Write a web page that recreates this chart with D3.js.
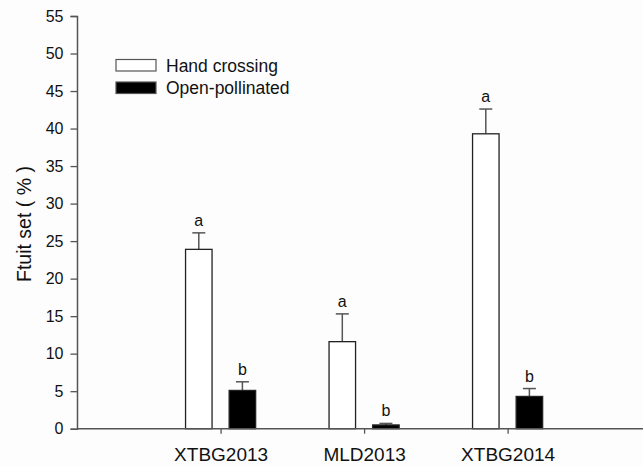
<!DOCTYPE html>
<html>
<head>
<meta charset="utf-8">
<script src="https://cdn.jsdelivr.net/npm/d3@7"></script>
<style>
  body { margin: 0; background: #fdfdfd; }
  text { font-family: "Liberation Sans", Arial, sans-serif; fill: #111; }
</style>
</head>
<body>
<div id="chart"></div>
<script>
// data
let sites = ["XTBG2013", "MLD2013", "XTBG2014"];
let handMean = [23.9, 11.6, 39.3];
let handErr = [2.2, 3.7, 3.3];
let openMean = [5.1, 0.5, 4.3];
let openErr = [1.15, 0.2, 1.05];
let handLetter = ["a", "a", "a"];
let openLetter = ["b", "b", "b"];
let yTicks = [0, 5, 10, 15, 20, 25, 30, 35, 40, 45, 50, 55];

let svgWidth = 643;
let svgHeight = 466;
let margin = { top: 16, right: 0, bottom: 37.3, left: 77 };
let height = svgHeight - margin.top - margin.bottom;

let svg = d3.select("#chart")
    .append("svg")
    .attr("width", svgWidth)
    .attr("height", svgHeight);

let chartGroup = svg.append("g")
    .attr("transform", `translate(${margin.left}, ${margin.top})`);

// x / y scales
let xScale = d3.scalePoint()
    .domain(sites)
    .range([143.6, 430.6]);

let yScale = d3.scaleLinear()
    .domain([0, 55])
    .range([height, 0]);

let barW = 26.5;
let off = 21.8;
let axisColor = "#555";

// bars: hand crossing (white) and open-pollinated (black)
let series = [
    { mean: handMean, err: handErr, letters: handLetter, dx: -off, fill: "#fff" },
    { mean: openMean, err: openErr, letters: openLetter, dx: off, fill: "#000" }
];

series.forEach(function(s) {
    let g = chartGroup.append("g");
    let rows = sites.map((d, i) => ({ site: d, v: s.mean[i], e: s.err[i], l: s.letters[i] }));

    // error bars (upper only)
    g.selectAll("line.err")
        .data(rows)
        .enter()
        .append("line")
        .attr("x1", d => xScale(d.site) + s.dx)
        .attr("x2", d => xScale(d.site) + s.dx)
        .attr("y1", d => yScale(d.v))
        .attr("y2", d => yScale(d.v + d.e))
        .attr("stroke", axisColor)
        .attr("stroke-width", 1.5);

    g.selectAll("line.cap")
        .data(rows)
        .enter()
        .append("line")
        .attr("x1", d => xScale(d.site) + s.dx - 6.5)
        .attr("x2", d => xScale(d.site) + s.dx + 6.5)
        .attr("y1", d => yScale(d.v + d.e))
        .attr("y2", d => yScale(d.v + d.e))
        .attr("stroke", axisColor)
        .attr("stroke-width", 1.5);

    g.selectAll("rect")
        .data(rows)
        .enter()
        .append("rect")
        .attr("x", d => xScale(d.site) + s.dx - barW / 2)
        .attr("y", d => yScale(d.v))
        .attr("width", barW)
        .attr("height", d => yScale(0) - yScale(d.v))
        .attr("fill", s.fill)
        .attr("stroke", "#222")
        .attr("stroke-width", 1.3);

    g.selectAll("text")
        .data(rows)
        .enter()
        .append("text")
        .text(d => d.l)
        .attr("x", d => xScale(d.site) + s.dx)
        .attr("y", d => yScale(d.v + d.e) - 7)
        .attr("text-anchor", "middle")
        .attr("font-size", "16px");
});

// y axis
let yAxis = d3.axisLeft(yScale)
    .tickValues(yTicks)
    .tickSize(6.5)
    .tickPadding(7);

let yG = chartGroup.append("g").call(yAxis);
yG.select(".domain").attr("stroke", axisColor).attr("stroke-width", 1.5);
yG.selectAll(".tick line").attr("stroke", axisColor).attr("stroke-width", 1.3);
yG.selectAll(".tick text").attr("font-size", "16px").attr("font-family", "Liberation Sans, Arial, sans-serif").attr("fill", "#111");

// x axis
let xAxis = d3.axisBottom(xScale)
    .tickSize(5)
    .tickPadding(14);

let xG = chartGroup.append("g")
    .attr("transform", `translate(0, ${height})`)
    .call(xAxis);
xG.select(".domain").remove();
xG.selectAll(".tick line").attr("stroke", axisColor).attr("stroke-width", 1.3);
xG.selectAll(".tick text").attr("font-size", "19px").attr("font-family", "Liberation Sans, Arial, sans-serif").attr("fill", "#111");

// baseline runs to the right edge
chartGroup.append("line")
    .attr("x1", 0)
    .attr("x2", svgWidth - margin.left)
    .attr("y1", height)
    .attr("y2", height)
    .attr("stroke", axisColor)
    .attr("stroke-width", 1.5);

// y label
chartGroup.append("text")
    .attr("transform", "rotate(-90)")
    .attr("x", -(224 - margin.top))
    .attr("y", 31 - margin.left)
    .attr("text-anchor", "middle")
    .attr("font-size", "19.5px")
    .text("Ftuit set ( % )");

// legend
let legendNames = ["Hand crossing", "Open-pollinated"];
let legendFill = ["#fff", "#000"];
let legend = svg.append("g");
legend.selectAll("rect")
    .data(legendNames)
    .enter()
    .append("rect")
    .attr("x", 116)
    .attr("y", (d, i) => 59.5 + i * 22.5)
    .attr("width", 40)
    .attr("height", 11.5)
    .attr("fill", (d, i) => legendFill[i])
    .attr("stroke", "#555")
    .attr("stroke-width", 1.2);

legend.selectAll("text")
    .data(legendNames)
    .enter()
    .append("text")
    .attr("x", 166)
    .attr("y", (d, i) => 71.5 + i * 22.5)
    .attr("font-size", "17.5px")
    .text(d => d);
</script>
</body>
</html>
